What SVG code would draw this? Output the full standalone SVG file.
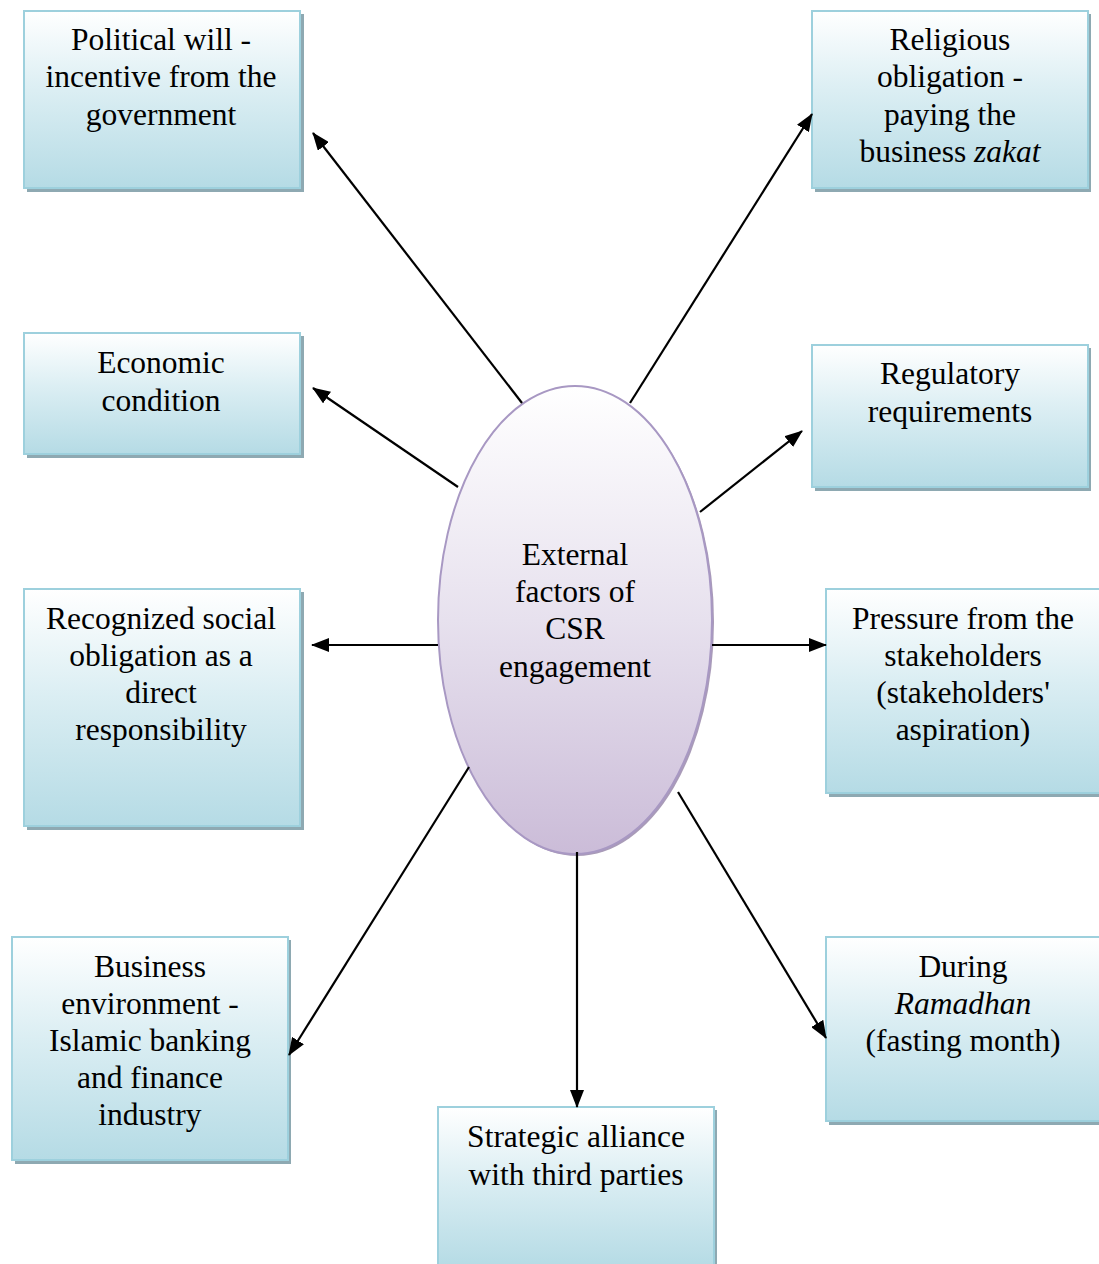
<svg xmlns="http://www.w3.org/2000/svg" width="1099" height="1264" viewBox="0 0 1099 1264">
<defs>
<linearGradient id="boxg" x1="0" y1="0" x2="0" y2="1">
<stop offset="0" stop-color="#ffffff"/>
<stop offset="0.45" stop-color="#dbeef3"/>
<stop offset="1" stop-color="#b5dbe5"/>
</linearGradient>
<linearGradient id="ellg" x1="0" y1="0" x2="0" y2="1">
<stop offset="0" stop-color="#ffffff"/>
<stop offset="0.5" stop-color="#e7e1ee"/>
<stop offset="1" stop-color="#cbbcd8"/>
</linearGradient>
<marker id="ah" markerWidth="18" markerHeight="14" refX="17" refY="7" orient="auto" markerUnits="userSpaceOnUse">
<path d="M0,0 L18,7 L0,14 Z" fill="#000"/>
</marker>
<style>
.box{fill:url(#boxg);stroke:#9dd0dd;stroke-width:2}
.sh{fill:#8ea9b2}
.t{font-family:"Liberation Serif","Times New Roman",serif;font-size:31.5px;fill:#000;text-anchor:middle}
.con line{stroke:#000;stroke-width:2.2;marker-end:url(#ah)}
</style>
</defs>
<rect width="1099" height="1264" fill="#fff"/>

<g id="n-political">
<rect class="sh" x="27" y="14" width="277" height="178"/>
<rect class="box" x="24" y="11" width="276" height="177"/>
<text class="t" x="161" y="50">Political will -</text>
<text class="t" x="161" y="87">incentive from the</text>
<text class="t" x="161" y="125">government</text>
</g>

<g id="n-religious">
<rect class="sh" x="815" y="14" width="276" height="178"/>
<rect class="box" x="812" y="11" width="276" height="177"/>
<text class="t" x="950" y="50">Religious</text>
<text class="t" x="950" y="87">obligation -</text>
<text class="t" x="950" y="125">paying the</text>
<text class="t" x="950" y="162">business <tspan font-style="italic">zakat</tspan></text>
</g>

<g id="n-economic">
<rect class="sh" x="27" y="336" width="277" height="122"/>
<rect class="box" x="24" y="333" width="276" height="121"/>
<text class="t" x="161" y="373">Economic</text>
<text class="t" x="161" y="411">condition</text>
</g>

<g id="n-regulatory">
<rect class="sh" x="815" y="348" width="276" height="143"/>
<rect class="box" x="812" y="345" width="276" height="142"/>
<text class="t" x="950" y="384">Regulatory</text>
<text class="t" x="950" y="422">requirements</text>
</g>

<g id="n-recognized">
<rect class="sh" x="27" y="592" width="277" height="238"/>
<rect class="box" x="24" y="589" width="276" height="237"/>
<text class="t" x="161" y="629">Recognized social</text>
<text class="t" x="161" y="666">obligation as a</text>
<text class="t" x="161" y="703">direct</text>
<text class="t" x="161" y="740">responsibility</text>
</g>

<g id="n-pressure">
<rect class="sh" x="829" y="592" width="276" height="205"/>
<rect class="box" x="826" y="589" width="276" height="204"/>
<text class="t" x="963" y="629">Pressure from the</text>
<text class="t" x="963" y="666">stakeholders</text>
<text class="t" x="963" y="703">(stakeholders'</text>
<text class="t" x="963" y="740">aspiration)</text>
</g>

<g id="n-business">
<rect class="sh" x="15" y="940" width="276" height="224"/>
<rect class="box" x="12" y="937" width="276" height="223"/>
<text class="t" x="150" y="977">Business</text>
<text class="t" x="150" y="1014">environment -</text>
<text class="t" x="150" y="1051">Islamic banking</text>
<text class="t" x="150" y="1088">and finance</text>
<text class="t" x="150" y="1125">industry</text>
</g>

<g id="n-ramadhan">
<rect class="sh" x="829" y="940" width="276" height="185"/>
<rect class="box" x="826" y="937" width="276" height="184"/>
<text class="t" x="963" y="977">During</text>
<text class="t" x="963" y="1014" font-style="italic">Ramadhan</text>
<text class="t" x="963" y="1051">(fasting month)</text>
</g>

<g id="n-strategic">
<rect class="sh" x="441" y="1110" width="276" height="160"/>
<rect class="box" x="438" y="1107" width="276" height="160"/>
<text class="t" x="576" y="1147">Strategic alliance</text>
<text class="t" x="576" y="1185">with third parties</text>
</g>

<g id="n-center">
<ellipse cx="577" cy="622" rx="137" ry="234" fill="#a99bb8"/>
<ellipse cx="575" cy="620" rx="137" ry="234" fill="url(#ellg)" stroke="#a898c3" stroke-width="2"/>
<text class="t" x="575" y="565">External</text>
<text class="t" x="575" y="602">factors of</text>
<text class="t" x="575" y="639">CSR</text>
<text class="t" x="575" y="677">engagement</text>
</g>

<g id="connectors" class="con">
<line x1="522" y1="403" x2="313" y2="133"/>
<line x1="630" y1="403" x2="812" y2="114"/>
<line x1="458" y1="487" x2="313" y2="388"/>
<line x1="700" y1="512" x2="802" y2="431"/>
<line x1="438" y1="645" x2="312" y2="645"/>
<line x1="712" y1="645" x2="826" y2="645"/>
<line x1="469" y1="767" x2="289" y2="1055"/>
<line x1="577" y1="852" x2="577" y2="1107"/>
<line x1="678" y1="792" x2="826" y2="1038"/>
</g>
</svg>
